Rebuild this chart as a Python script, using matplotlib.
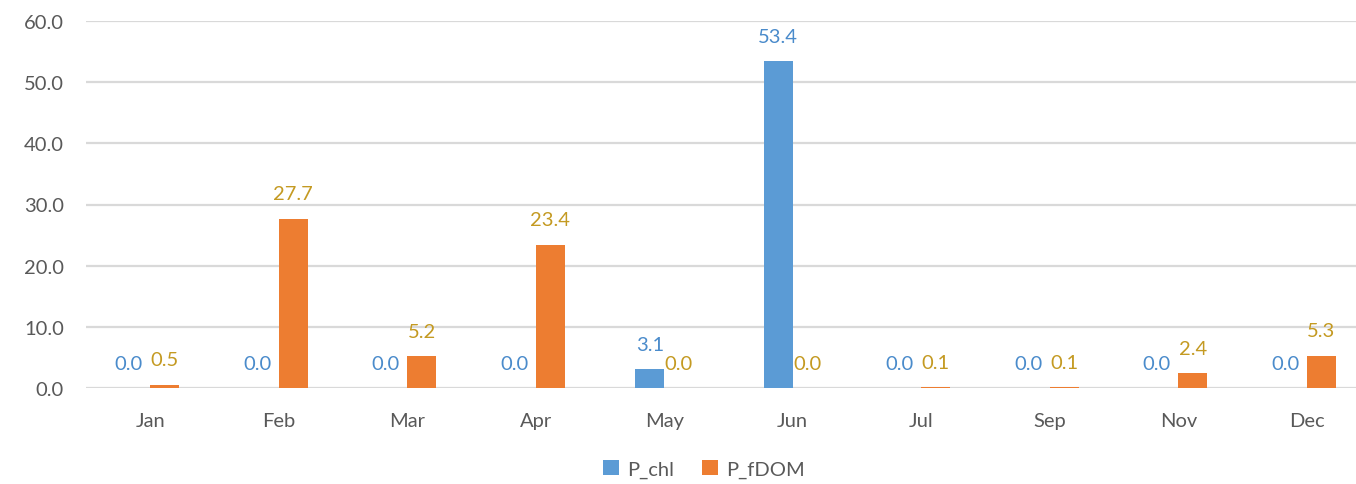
import matplotlib
matplotlib.use("Agg")
import matplotlib.pyplot as plt
import numpy as np

months = ["Jan", "Feb", "Mar", "Apr", "May", "Jun", "Jul", "Sep", "Nov", "Dec"]
p_chl = [0.0, 0.0, 0.0, 0.0, 3.1, 53.4, 0.0, 0.0, 0.0, 0.0]
p_fdom = [0.5, 27.7, 5.2, 23.4, 0.0, 0.0, 0.1, 0.1, 2.4, 5.3]
y_ticks = [0, 10, 20, 30, 40, 50, 60]

blue = "#5B9BD5"
orange = "#ED7D31"
blue_lbl = "#4A8BCB"
gold_lbl = "#C49A22"
grey_txt = "#595959"
grid_col = "#D9D9D9"

plt.rcParams["font.family"] = ["Lato", "DejaVu Sans"]
fs = 14.5

W, H = 1356, 485
fig = plt.figure(figsize=(W / 100, H / 100), dpi=100)
ax = fig.add_axes([86 / W, (H - 389) / H, 1285 / W, (389 - 22) / H])

x = np.arange(len(months))
bw = 0.226
b1 = ax.bar(x - bw / 2, p_chl, bw, color=blue, label="P_chl", zorder=3)
b2 = ax.bar(x + bw / 2, p_fdom, bw, color=orange, label="P_fDOM", zorder=3)

ax.set_xlim(-0.5, len(months) - 0.5)
ax.set_ylim(0, 60)
ax.set_yticks(y_ticks)
ax.set_yticklabels([f"{v:.1f}" for v in y_ticks])
ax.set_xticks(x)
ax.set_xticklabels(months)
ax.tick_params(axis="both", length=0, labelsize=fs, colors=grey_txt)
ax.tick_params(axis="y", pad=16)
ax.tick_params(axis="x", pad=17)
for s in ax.spines.values():
    s.set_visible(False)
ax.grid(axis="y", color=grid_col, linewidth=1.6, zorder=0)
ax.set_axisbelow(True)

for xi, v in zip(x, p_chl):
    dx = -5 if v < 1 else 0
    ax.annotate(f"{v:.1f}", (xi - bw / 2, v), xytext=(dx, 14),
                textcoords="offset points", ha="center", va="baseline",
                fontsize=fs, color=blue_lbl)
for xi, v in zip(x, p_fdom):
    ax.annotate(f"{v:.1f}", (xi + bw / 2, v), xytext=(0, 14),
                textcoords="offset points", ha="center", va="baseline",
                fontsize=fs, color=gold_lbl)

fig.legend(handles=[b1, b2], loc="center", bbox_to_anchor=(704 / W, 1 - 470 / H),
           ncol=2, frameon=False, fontsize=fs, labelcolor=grey_txt,
           handlelength=0.8, handleheight=0.8, handletextpad=0.4, columnspacing=1.4)

fig.savefig("out.png", dpi=100)
